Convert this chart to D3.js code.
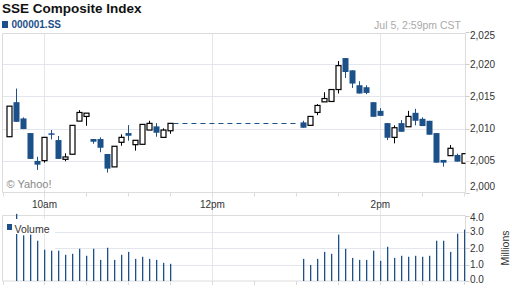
<!DOCTYPE html>
<html>
<head>
<meta charset="utf-8">
<script src="https://cdn.jsdelivr.net/npm/d3@7"></script>
<style>
  body { margin: 0; background: #fff; }
  svg { display: block; font-family: "Liberation Sans", Arial, sans-serif; }
</style>
</head>
<body>
<svg width="512" height="288"></svg>
<script>
// 5-minute candles, morning session then afternoon session
var times = ["09:35","09:40","09:45","09:50","09:55","10:00","10:05","10:10","10:15","10:20","10:25","10:30",
             "10:35","10:40","10:45","10:50","10:55","11:00","11:05","11:10","11:15","11:20","11:25","11:30",
             "13:05","13:10","13:15","13:20","13:25","13:30","13:35","13:40","13:45","13:50","13:55","14:00",
             "14:05","14:10","14:15","14:20","14:25","14:30","14:35","14:40","14:45","14:50","14:55","15:00"];
var open  = [2008.72,2014.10,2011.57,2009.29,2004.95,2004.99,2009.25,2008.20,2005.20,2005.99,2011.15,2011.88,
             2008.36,2008.36,2006.03,2004.02,2007.85,2009.29,2007.48,2007.54,2009.76,2010.33,2008.62,2009.65,
             2010.95,2010.49,2012.50,2014.15,2014.21,2016.07,2020.97,2019.06,2016.74,2016.43,2014.10,2012.75,
             2010.84,2008.62,2010.84,2010.27,2012.44,2011.51,2011.20,2009.29,2005.10,2005.77,2005.88,2004.59];
var high  = [2013.48,2016.22,2011.73,2009.29,2005.60,2008.62,2009.76,2008.83,2006.14,2010.49,2012.86,2012.39,
             2008.36,2008.62,2006.03,2007.23,2009.09,2010.53,2008.16,2010.64,2011.20,2010.84,2010.02,2010.80,
             2011.20,2011.88,2013.79,2015.65,2016.07,2020.50,2020.97,2019.06,2017.36,2016.74,2014.10,2013.17,
             2010.84,2010.49,2011.31,2012.75,2013.06,2011.73,2011.20,2009.29,2005.10,2007.43,2006.08,2006.08];
var low   = [2008.72,2011.04,2009.91,2005.26,2003.55,2004.68,2008.31,2005.26,2004.90,2005.99,2011.15,2010.42,
             2007.63,2006.30,2003.13,2004.02,2007.32,2008.10,2006.55,2007.54,2009.76,2008.72,2008.62,2009.18,
             2010.12,2010.49,2012.08,2014.15,2014.21,2015.45,2017.87,2016.32,2015.45,2015.34,2011.82,2011.97,
             2008.20,2007.69,2009.49,2010.27,2010.49,2010.38,2009.03,2004.68,2004.06,2005.77,2004.84,2004.59];
var close = [2013.48,2011.04,2009.91,2005.26,2004.37,2008.62,2009.10,2005.26,2005.57,2010.49,2012.50,2012.39,
             2007.94,2007.00,2003.75,2007.23,2008.62,2008.87,2008.16,2010.64,2010.80,2009.34,2009.76,2010.80,
             2010.12,2011.88,2013.59,2014.67,2016.07,2019.79,2018.80,2017.00,2015.45,2015.54,2011.82,2011.97,
             2008.56,2010.12,2009.49,2011.88,2011.20,2010.38,2009.03,2004.68,2004.68,2006.92,2004.84,2006.08];
// volume in millions (first bar not shown in the picture)
var volume = [null,4.10,2.79,2.83,2.46,1.91,1.85,1.85,1.60,1.66,1.97,1.54,
              1.97,1.29,2.03,1.29,1.60,1.78,1.35,1.48,1.35,1.29,1.11,1.05,
              1.35,0.98,1.35,1.78,1.66,2.83,1.97,1.41,1.29,1.29,1.85,1.23,
              2.09,1.41,1.54,1.48,1.54,1.48,1.54,2.46,2.46,1.78,2.89,3.14];
var priceTicks = [2000, 2005, 2010, 2015, 2020, 2025];
var volTicks = [0, 1, 2, 3, 4];
var lunchStart = "11:30", lunchEnd = "13:00";

var blue = "#1c5089", grid = "#e4e6ee";
var parse = function(s){ return d3.timeParse("%Y-%m-%d %H:%M")("2013-07-05 " + s); };

var svg = d3.select("svg");
var L = 2.5, R = 465.5, mTop = 33.5, mBot = 192.5, vTop = 215.5, vBot = 281;

var x = d3.scaleTime().domain([parse("09:30"), parse("15:00")]).range([L, 464.3]);
var y = d3.scaleLinear().domain([2000, 2025]).range([192.7, 32.2]);
var yv = d3.scaleLinear().domain([0, 4]).range([vBot, vTop]);

var halfHours = d3.timeMinute.every(30).range(parse("09:30"), parse("15:01"));
var hourLabels = [parse("10:00"), parse("12:00"), parse("14:00")];

// vertical grid lines through both panels
svg.append("g").selectAll("line").data(hourLabels).enter().append("line")
  .attr("x1", function(d){ return Math.round(x(d)) + 0.5; })
  .attr("x2", function(d){ return Math.round(x(d)) + 0.5; })
  .attr("y1", mTop).attr("y2", vBot)
  .attr("stroke", grid);

// horizontal grid lines
svg.append("g").selectAll("line").data(priceTicks.slice(1, -1)).enter().append("line")
  .attr("x1", L).attr("x2", R)
  .attr("y1", function(d){ return Math.round(y(d)) + 0.5; })
  .attr("y2", function(d){ return Math.round(y(d)) + 0.5; })
  .attr("stroke", grid);
svg.append("g").selectAll("line").data(volTicks.slice(1, -1)).enter().append("line")
  .attr("x1", 55).attr("x2", R)
  .attr("y1", function(d){ return Math.round(yv(d)) + 0.5; })
  .attr("y2", function(d){ return Math.round(yv(d)) + 0.5; })
  .attr("stroke", grid);

// frames
var frame = svg.append("g").attr("stroke", "#dcdcdc").attr("fill", "none");
frame.append("path").attr("d", "M" + L + "," + mBot + "V" + mTop + "H" + R + "V" + mBot + "H" + L);
frame.append("path").attr("d", "M" + L + "," + vBot + "V" + vTop + "H" + R + "V" + vBot + "H" + L);

// time ticks under both panels
[mBot, vBot].forEach(function(yy){
  svg.append("g").selectAll("line").data(halfHours).enter().append("line")
    .attr("x1", function(d){ return Math.round(x(d)) + 0.5; })
    .attr("x2", function(d){ return Math.round(x(d)) + 0.5; })
    .attr("y1", yy).attr("y2", yy + 4)
    .attr("stroke", "#dcdcdc");
});

// price axis ticks + labels
var pa = svg.append("g");
pa.selectAll("line").data(priceTicks).enter().append("line")
  .attr("x1", R).attr("x2", R + 4)
  .attr("y1", function(d){ return Math.round(y(d)) + 0.5; })
  .attr("y2", function(d){ return Math.round(y(d)) + 0.5; })
  .attr("stroke", "#ccc");
pa.selectAll("text").data(priceTicks).enter().append("text")
  .attr("x", 470)
  .attr("y", function(d){ return y(d) + (d === 2025 ? 7 : d === 2000 ? -3 : 3.5); })
  .attr("font-size", 10).attr("fill", "#333")
  .text(d3.format(","));

var va = svg.append("g");
va.selectAll("line").data(volTicks).enter().append("line")
  .attr("x1", R).attr("x2", R + 4)
  .attr("y1", function(d){ return Math.round(yv(d)) + 0.5; })
  .attr("y2", function(d){ return Math.round(yv(d)) + 0.5; })
  .attr("stroke", "#ccc");
va.selectAll("text").data(volTicks).enter().append("text")
  .attr("x", 470)
  .attr("y", function(d){ return yv(d) + (d === 4 ? 5 : d === 0 ? 1.5 : 3.5); })
  .attr("font-size", 10).attr("fill", "#333")
  .text(d3.format(".1f"));

svg.append("text").attr("transform", "translate(509,248) rotate(-90)")
  .attr("text-anchor", "middle").attr("font-size", 10.5).attr("fill", "#333")
  .text("Millions");

// hour labels
svg.append("g").selectAll("text").data(hourLabels).enter().append("text")
  .attr("x", function(d){ return x(d); }).attr("y", 207.5)
  .attr("text-anchor", "middle").attr("font-size", 10).attr("fill", "#333")
  .text(function(d){ return d3.timeFormat("%-I%p")(d).toLowerCase(); });

// clip for marks
svg.append("clipPath").attr("id", "clip").append("rect")
  .attr("x", L).attr("y", 0).attr("width", R - L).attr("height", 288);

var data = times.map(function(t, i){
  return { t: parse(t), o: open[i], h: high[i], l: low[i], c: close[i], v: volume[i] };
});

var marks = svg.append("g").attr("clip-path", "url(#clip)");

// lunch break dashed line
var lastAM = data[23];
marks.append("line")
  .attr("x1", x(parse(lunchStart)) + 3).attr("x2", x(parse(lunchEnd)))
  .attr("y1", Math.round(y(lastAM.c)) + 0.5).attr("y2", Math.round(y(lastAM.c)) + 0.5)
  .attr("stroke", blue).attr("stroke-dasharray", "5,4");

// wicks
marks.selectAll(".wick").data(data).enter().append("line")
  .attr("class", "wick")
  .attr("x1", function(d){ return Math.round(x(d.t)) + 0.5; })
  .attr("x2", function(d){ return Math.round(x(d.t)) + 0.5; })
  .attr("y1", function(d){ return y(d.h); })
  .attr("y2", function(d){ return y(d.l); })
  .attr("stroke", function(d){ return d.c > d.o ? "#000" : blue; });

// bodies
marks.selectAll(".body").data(data).enter().append("rect")
  .attr("class", "body")
  .attr("x", function(d){ return d.c > d.o ? Math.round(x(d.t)) - 2 : Math.round(x(d.t)) - 2.5; })
  .attr("width", function(d){ return d.c > d.o ? 5 : 6; })
  .attr("y", function(d){ return y(Math.max(d.o, d.c)); })
  .attr("height", function(d){ return Math.max(1.5, Math.abs(y(d.o) - y(d.c))); })
  .attr("fill", function(d){ return d.c > d.o ? "#fff" : blue; })
  .attr("stroke", function(d){ return d.c > d.o ? "#000" : "none"; })
  .attr("stroke-width", 1.2);

// volume bars
marks.selectAll(".vol").data(data.filter(function(d){ return d.v != null; })).enter().append("rect")
  .attr("class", "vol")
  .attr("x", function(d){ return Math.round(x(d.t)); })
  .attr("width", 1.3)
  .attr("y", function(d){ return yv(d.v); })
  .attr("height", function(d){ return vBot - yv(d.v); })
  .attr("fill", blue);

// volume legend
svg.append("rect").attr("x", 3).attr("y", 219).attr("width", 52).attr("height", 15).attr("fill", "#fff");
svg.append("rect").attr("x", 7).attr("y", 224).attr("width", 5).attr("height", 6).attr("fill", blue);
svg.append("text").attr("x", 14.5).attr("y", 232.5).attr("font-size", 10.5).attr("fill", "#333").text("Volume");

// titles
svg.append("text").attr("x", 2).attr("y", 13).attr("font-size", 13.5).attr("font-weight", "bold")
  .attr("fill", "#111").text("SSE Composite Index");
svg.append("rect").attr("x", 2).attr("y", 21).attr("width", 6).attr("height", 7).attr("fill", blue);
svg.append("text").attr("x", 11.5).attr("y", 28).attr("font-size", 10).attr("font-weight", "bold")
  .attr("fill", blue).text("000001.SS");
svg.append("text").attr("x", 461).attr("y", 28.5).attr("text-anchor", "end").attr("font-size", 10.5)
  .attr("fill", "#aaa").text("Jul 5, 2:59pm CST");
svg.append("text").attr("x", 6.5).attr("y", 188).attr("font-size", 11)
  .attr("fill", "#888").text("\u00a9 Yahoo!");
</script>
</body>
</html>
